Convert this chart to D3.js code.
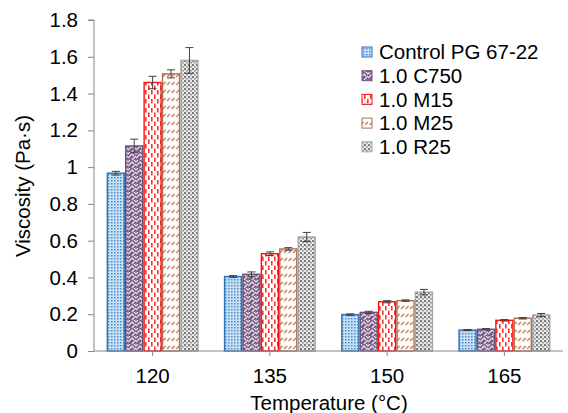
<!DOCTYPE html>
<html><head><meta charset="utf-8">
<script src="https://cdn.jsdelivr.net/npm/d3@7"></script>
<style>body{margin:0;background:#fff}svg{display:block}text{font-family:"Liberation Sans",Arial,sans-serif}</style>
</head><body>
<svg id="c" width="568" height="413"></svg>
<script>
const categories = ["120","135","150","165"];
const seriesNames = ["Control PG 67-22","1.0 C750","1.0 M15","1.0 M25","1.0 R25"];
const control = [0.967, 0.405, 0.198, 0.114];
const c750    = [1.115, 0.417, 0.210, 0.118];
const m15     = [1.460, 0.529, 0.268, 0.167];
const m25     = [1.507, 0.555, 0.274, 0.178];
const r25     = [1.580, 0.620, 0.320, 0.196];
const errControl = [0.010, 0.005, 0.004, 0.003];
const errC750    = [0.037, 0.013, 0.006, 0.004];
const errM15     = [0.034, 0.010, 0.006, 0.004];
const errM25     = [0.022, 0.007, 0.004, 0.004];
const errR25     = [0.070, 0.025, 0.015, 0.008];
const yTicks = [0,0.2,0.4,0.6,0.8,1,1.2,1.4,1.6,1.8];

const values = [control,c750,m15,m25,r25];
const errs = [errControl,errC750,errM15,errM25,errR25];
const borders = ["#2E75B6","#6B4F7A","#FF1010","#B0704F","#A6A6A6"];
const FS = 20.5;

const svg = d3.select("#c");
const defs = svg.append("defs");
function pat(id,w,h){return defs.append("pattern").attr("id",id).attr("patternUnits","userSpaceOnUse").attr("width",w).attr("height",h);}
let p0 = pat("p0",3,3);
p0.append("rect").attr("width",3).attr("height",3).attr("fill","#C9DFF3");
p0.append("rect").attr("width",1.5).attr("height",1.5).attr("fill","#4A8DCC");
let p1 = pat("p1",8,8);
p1.append("rect").attr("width",8).attr("height",8).attr("fill","#7E6288");
p1.append("path").attr("d","M0,2 L2,0 M0,6 L4,2 L6,4 M4,8 L8,4 M6,0 L8,2").attr("stroke","#F2EEF4").attr("stroke-width",1.1).attr("fill","none");
let p2 = pat("p2",6,9);
p2.append("rect").attr("width",6).attr("height",9).attr("fill","#fff");
p2.append("rect").attr("x",1).attr("y",0).attr("width",1.6).attr("height",4.5).attr("fill","#FF3030");
p2.append("rect").attr("x",4).attr("y",4.5).attr("width",1.6).attr("height",4.5).attr("fill","#FF3030");
let p3 = pat("p3",4.5,8);
p3.append("rect").attr("width",4.5).attr("height",8).attr("fill","#fff");
p3.append("path").attr("d","M0.6,5 L3.6,2").attr("stroke","#C07A58").attr("stroke-width",1.4);
let p4 = pat("p4",4,4);
p4.append("rect").attr("width",4).attr("height",4).attr("fill","#E8E8E8");
p4.append("rect").attr("width",2).attr("height",2).attr("fill","#7A7A7A");
p4.append("rect").attr("x",2).attr("y",2).attr("width",2).attr("height",1.5).attr("fill","#9A9A9A");

const x0 = 94, x1 = 563, yTop = 20, yBot = 351;
const x = d3.scaleBand().domain(categories).range([x0,x1]).paddingInner(0.215).paddingOuter(0.1075);
const xs = d3.scaleBand().domain(d3.range(5)).range([0,x.bandwidth()]);
const y = d3.scaleLinear().domain([0,1.8]).range([yBot,yTop]);

values.forEach((vals,s)=>{
  const g = svg.append("g");
  g.selectAll("rect").data(vals).join("rect")
    .attr("x",(d,i)=>x(categories[i])+xs(s)+0.7)
    .attr("y",d=>y(d))
    .attr("width",xs.bandwidth()-1.4)
    .attr("height",d=>yBot-y(d))
    .attr("fill",`url(#p${s})`)
    .attr("stroke",borders[s]).attr("stroke-width",1.4);
  const eg = svg.append("g").attr("stroke","#404040").attr("stroke-width",1);
  vals.forEach((v,i)=>{
    const cx = x(categories[i])+xs(s)+xs.bandwidth()/2;
    const e = errs[s][i];
    eg.append("line").attr("x1",cx).attr("x2",cx).attr("y1",y(v+e)).attr("y2",y(v-e));
    eg.append("line").attr("x1",cx-4).attr("x2",cx+4).attr("y1",y(v+e)).attr("y2",y(v+e));
    eg.append("line").attr("x1",cx-4).attr("x2",cx+4).attr("y1",y(v-e)).attr("y2",y(v-e));
  });
});

const yAxis = d3.axisLeft(y).tickValues(yTicks).tickSize(6).tickPadding(10).tickFormat(d=>d3.format("")(+d.toFixed(1)));
const ya = svg.append("g").attr("transform",`translate(${x0},0)`).call(yAxis);
ya.select(".domain").attr("stroke","#868686").attr("d",`M-6,${yTop}H0V${yBot}`);
ya.selectAll(".tick line").attr("stroke","#868686");
ya.selectAll("text").attr("font-size",FS).attr("fill","#000").style("font-family","Liberation Sans, Arial");

const xAxis = d3.axisBottom(x).tickSize(5).tickPadding(12);
const xa = svg.append("g").attr("transform",`translate(0,${yBot})`).call(xAxis);
xa.select(".domain").attr("stroke","#868686").attr("d",`M${x0},0H${x1}`);
xa.selectAll(".tick line").attr("stroke","#868686");
xa.selectAll("text").attr("font-size",FS).attr("fill","#000").style("font-family","Liberation Sans, Arial");

svg.append("text").attr("x",329).attr("y",410).attr("text-anchor","middle").attr("font-size",FS).text("Temperature (°C)");
svg.append("text").attr("transform","translate(30,186) rotate(-90)").attr("text-anchor","middle").attr("font-size",FS).text("Viscosity (Pa·s)");

const leg = svg.append("g");
seriesNames.forEach((n,i)=>{
  const cy = 52 + i*23.7;
  leg.append("rect").attr("x",362).attr("y",cy-5).attr("width",10).attr("height",10).attr("fill",`url(#p${i})`).attr("stroke",borders[i]).attr("stroke-width",1);
  leg.append("text").attr("x",379).attr("y",cy+7.2).attr("font-size",FS).text(n);
});
</script>
</body></html>
